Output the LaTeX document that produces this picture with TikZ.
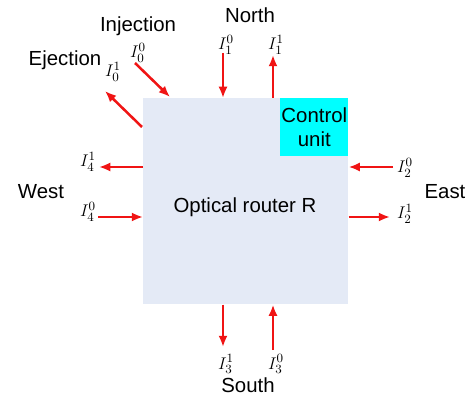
\documentclass[tikz,border=0pt]{standalone}
\usepackage{fontspec}
\setmainfont{Liberation Sans}
\usetikzlibrary{arrows.meta}
\definecolor{routerGrey}{RGB}{228, 234, 246}
\definecolor{unitCyan}{RGB}{0, 255, 255}
\definecolor{linkRed}{RGB}{240, 20, 20}

\begin{document}
\begin{tikzpicture}[x=0.025cm, y=-0.025cm,
    link/.style={linkRed, line width=1.8pt, -{Latex[length=8pt, width=6.5pt]}},
    dir/.style={font=\fontsize{14.5}{17.5}\selectfont},
    port/.style={font=\fontsize{13}{15}\selectfont, inner sep=0pt}]
        \useasboundingbox (0,0) rectangle (473,400);
        % router and control unit
        \node[fill=routerGrey, inner sep=0pt, minimum width=5.125cm, minimum height=5.15cm,
          anchor=north west] (router) at (143,98) {};
        \node[dir] (routerText) at (245,207) {Optical router R};
        \node[dir, fill=unitCyan, inner sep=0pt, minimum width=1.7cm, minimum height=1.45cm,
          align=center, anchor=north east] (unit) at (router.north east) {Control\\unit};
        % directions
        \node[dir] (north) at (250,15) {North};
        \node[dir] (south) at (248,385) {South};
        \node[dir] (west) at (41,192) {West};
        \node[dir] (east) at (445,192) {East};
        \node[dir] (injection) at (138,26) {Injection};
        \node[dir] (ejection) at (65,60) {Ejection};
        % port labels
        \node[port] (i00) at (138,53) {$I_0^0$};
        \node[port] (i01) at (113,72) {$I_0^1$};
        \node[port] (i10) at (226,45) {$I_1^0$};
        \node[port] (i11) at (276,45) {$I_1^1$};
        \node[port] (i20) at (405,168) {$I_2^0$};
        \node[port] (i21) at (405,214) {$I_2^1$};
        \node[port] (i31) at (226,364) {$I_3^1$};
        \node[port] (i30) at (276,364) {$I_3^0$};
        \node[port] (i41) at (88,162) {$I_4^1$};
        \node[port] (i40) at (88,212) {$I_4^0$};
        % free ends of the links
        \coordinate (inj0) at (135,63);
        \coordinate (inj1) at (170,97);
        \coordinate (ej0) at (142,127);
        \coordinate (ej1) at (105,91);
        \coordinate (n0) at (223,53);
        \coordinate (n1) at (273,55);
        \coordinate (e0) at (393,167);
        \coordinate (e1) at (390,217);
        \coordinate (s1) at (223,347);
        \coordinate (s0) at (273,350);
        \coordinate (w1) at (99,167);
        \coordinate (w0) at (98,217);
        % links
        \draw[link] (inj0) -- (inj1);
        \draw[link] (ej0) -- (ej1);
        \draw[link] (n0) -- (n0 |- router.north);
        \draw[link] (n1 |- router.north) -- (n1);
        \draw[link] (e0) -- (e0 -| router.east);
        \draw[link] (e1 -| router.east) -- (e1);
        \draw[link] (s1 |- router.south) -- (s1);
        \draw[link] (s0) -- (s0 |- router.south);
        \draw[link] (w1 -| router.west) -- (w1);
        \draw[link] (w0) -- (w0 -| router.west);
      \end{tikzpicture}
\end{document}
